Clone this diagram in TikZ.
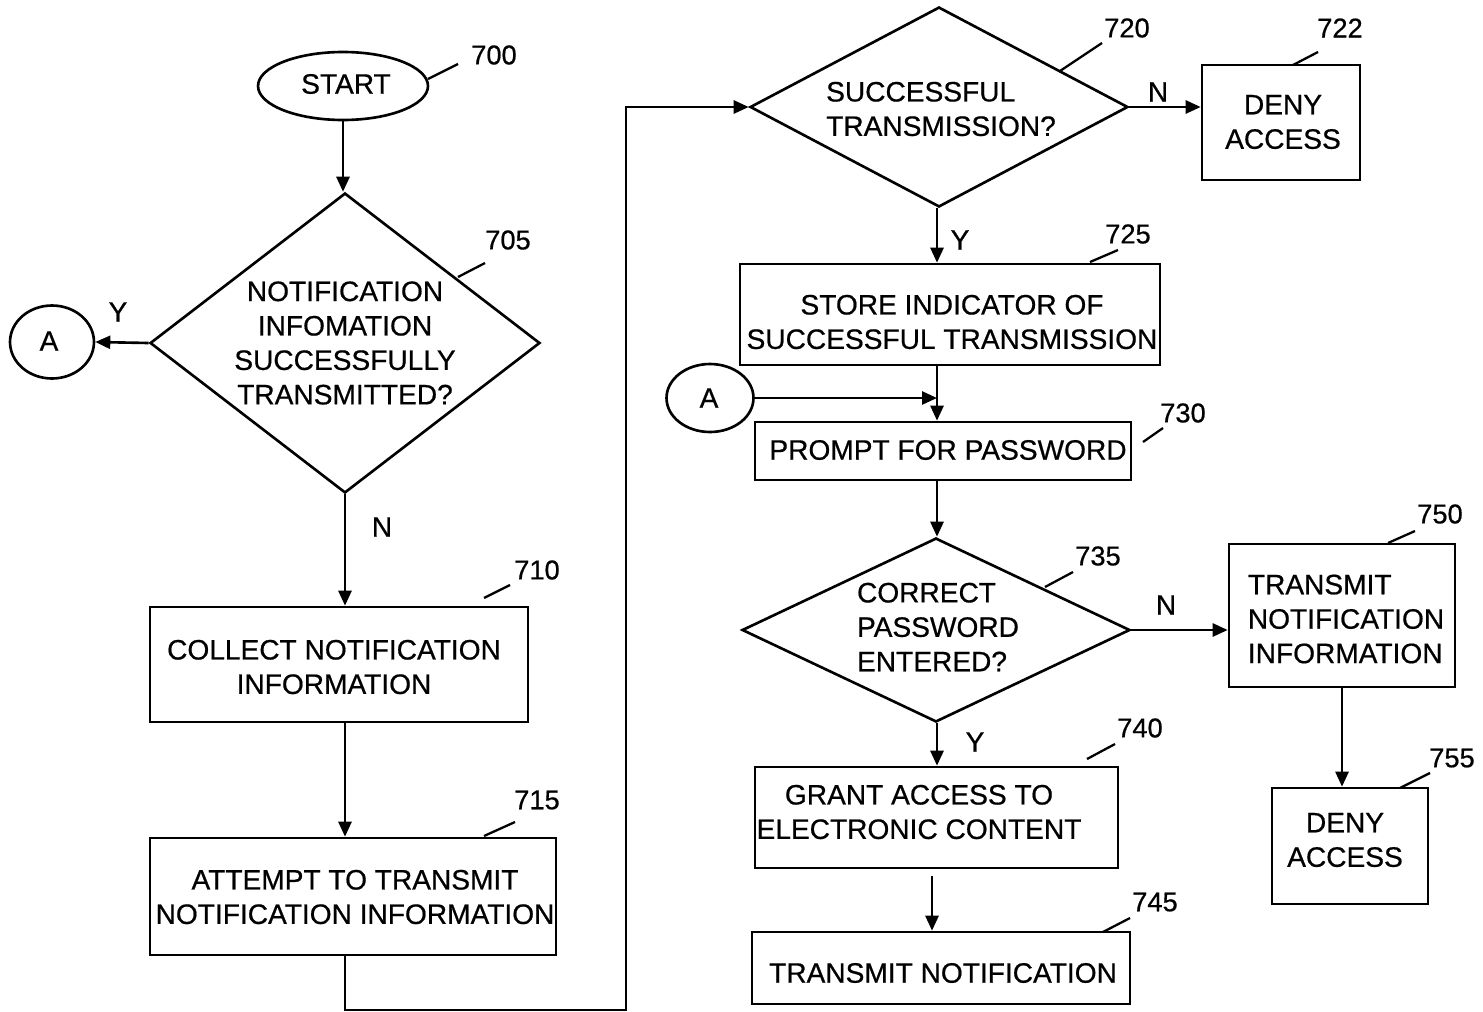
\documentclass[tikz,border=0pt]{standalone}
\usepackage{fontspec}
\setmainfont{Liberation Sans}[FakeBold=0.6]
\usetikzlibrary{arrows.meta,shapes.geometric}
\begin{document}
\begin{tikzpicture}[x=0.02cm,y=-0.02cm,
  every node/.style={font=\fontsize{16}{19.6}\selectfont, inner sep=0pt, text=black},
  box/.style={draw, line width=1.5pt, rectangle},
  dia/.style={draw, line width=1.5pt, diamond},
  ell/.style={draw, line width=1.5pt, ellipse},
  arr/.style={line width=1.5pt, -{Triangle[length=0.3cm,width=0.26cm]}},
  lead/.style={line width=1.3pt},
  lbl/.style={font=\fontsize{15.5}{18}\selectfont},
  yn/.style={font=\fontsize{16}{19.6}\selectfont}]
\useasboundingbox (0,0) rectangle (1483,1011);

% shapes
\node[ell, minimum width=3.4cm, minimum height=1.36cm] (start) at (343,86) {};
\node (tstart) at (346,84) {START};
\node[dia, minimum width=7.8cm, minimum height=6cm] (d705) at (345,343) {};
\node[align=center] (t705) at (345,343) {NOTIFICATION\\INFOMATION\\SUCCESSFULLY\\TRANSMITTED?};
\node[ell, minimum width=1.68cm, minimum height=1.46cm] (A1) at (52,342) {};
\node (tA1) at (49,341) {A};
\node[box, minimum width=7.56cm, minimum height=2.3cm] (b710) at (339,664.5) {};
\node[align=center] (t710) at (334,667) {COLLECT NOTIFICATION\\INFORMATION};
\node[box, minimum width=8.12cm, minimum height=2.34cm] (b715) at (353,896.5) {};
\node[align=center] (t715) at (355,897) {ATTEMPT TO TRANSMIT\\NOTIFICATION INFORMATION};

\node[dia, minimum width=7.56cm, minimum height=4cm] (d720) at (939,107) {};
\node[align=left] (t720) at (941,109) {SUCCESSFUL\\TRANSMISSION?};
\node[box, minimum width=3.16cm, minimum height=2.3cm] (b722) at (1281,122.5) {};
\node[align=center] (t722) at (1283,122) {DENY\\ACCESS};
\node[box, minimum width=8.4cm, minimum height=2.02cm] (b725) at (950,314.5) {};
\node[align=center] (t725) at (952,322) {STORE INDICATOR OF\\SUCCESSFUL TRANSMISSION};
\node[ell, minimum width=1.74cm, minimum height=1.36cm] (A2) at (710,398) {};
\node (tA2) at (709,398) {A};
\node[box, minimum width=7.52cm, minimum height=1.16cm] (b730) at (943,451) {};
\node (t730) at (948,450) {PROMPT FOR PASSWORD};
\node[dia, minimum width=7.76cm, minimum height=3.68cm] (d735) at (936,630) {};
\node[align=left] (t735) at (938,627) {CORRECT\\PASSWORD\\ENTERED?};
\node[box, minimum width=4.52cm, minimum height=2.86cm] (b750) at (1342,615.5) {};
\node[align=left] (t750) at (1346,619) {TRANSMIT\\NOTIFICATION\\INFORMATION};
\node[box, minimum width=3.12cm, minimum height=2.32cm] (b755) at (1350,846) {};
\node[align=center] (t755) at (1345,840) {DENY\\ACCESS};
\node[box, minimum width=7.26cm, minimum height=2.02cm] (b740) at (936.5,817.5) {};
\node[align=center] (t740) at (919,812) {GRANT ACCESS TO\\ELECTRONIC CONTENT};
\node[box, minimum width=7.56cm, minimum height=1.44cm] (b745) at (941,968) {};
\node (t745) at (943,973) {TRANSMIT NOTIFICATION};

% reference numerals
\node[lbl] (l700) at (494,55) {700};
\node[lbl] (l705) at (508,240) {705};
\node[lbl] (l710) at (537,570) {710};
\node[lbl] (l715) at (537,800) {715};
\node[lbl] (l720) at (1127,28) {720};
\node[lbl] (l722) at (1340,28) {722};
\node[lbl] (l725) at (1128,234) {725};
\node[lbl] (l730) at (1183,413) {730};
\node[lbl] (l735) at (1098,556) {735};
\node[lbl] (l740) at (1140,728) {740};
\node[lbl] (l745) at (1155,902) {745};
\node[lbl] (l750) at (1440,514) {750};
\node[lbl] (l755) at (1452,758) {755};
\draw[lead] (428,79) -- (458,64);
\draw[lead] (458,277) -- (485,263);
\draw[lead] (484,598) -- (510,585);
\draw[lead] (484,836) -- (515,822);
\draw[lead] (1060,71) -- (1102,43);
\draw[lead] (1293,65) -- (1318,52);
\draw[lead] (1090,262) -- (1118,250);
\draw[lead] (1143,442) -- (1163,428);
\draw[lead] (1045,587) -- (1073,572);
\draw[lead] (1087,759) -- (1115,744);
\draw[lead] (1103,932) -- (1130,918);
\draw[lead] (1388,543) -- (1415,531);
\draw[lead] (1400,788) -- (1430,773);

% Y/N labels
\node[yn] (y705) at (118,312) {Y};
\node[yn] (n705) at (382,527) {N};
\node[yn] (n720) at (1158,92) {N};
\node[yn] (y720) at (960,240) {Y};
\node[yn] (n735) at (1166,605) {N};
\node[yn] (y735) at (975,742) {Y};

% connectors
\coordinate (col) at (937,0);
\coordinate (col2) at (932,0);
\coordinate (c1) at (345,1010);
\coordinate (c2) at (626,1010);
\draw[arr] (start.south) -- (start.south |- d705.north);
\draw[arr] (d705.west) -- (A1.east);
\draw[arr] (d705.south) -- (d705.south |- b710.north);
\draw[arr] (b710.south -| d705.south) -- (d705.south |- b715.north);
\draw[arr] (c1 |- b715.south) -- (c1) -- (c2) |- (d720.west);
\draw[arr] (d720.east) -- (d720.east -| b722.west);
\draw[arr] (col |- d720.south) -- (col |- b725.north);
\draw[arr] (col |- b725.south) -- (col |- b730.north);
\draw[arr] (A2.east) -- (A2.east -| col);
\draw[arr] (col |- b730.south) -- (col |- d735.north);
\draw[arr] (d735.east) -- (d735.east -| b750.west);
\draw[arr] (col |- d735.south) -- (col |- b740.north);
\draw[arr] ([yshift=-0.14cm]col2 |- b740.south) -- (col2 |- b745.north);
\draw[arr] (b750.south) -- (b750.south |- b755.north);
\end{tikzpicture}
\end{document}
